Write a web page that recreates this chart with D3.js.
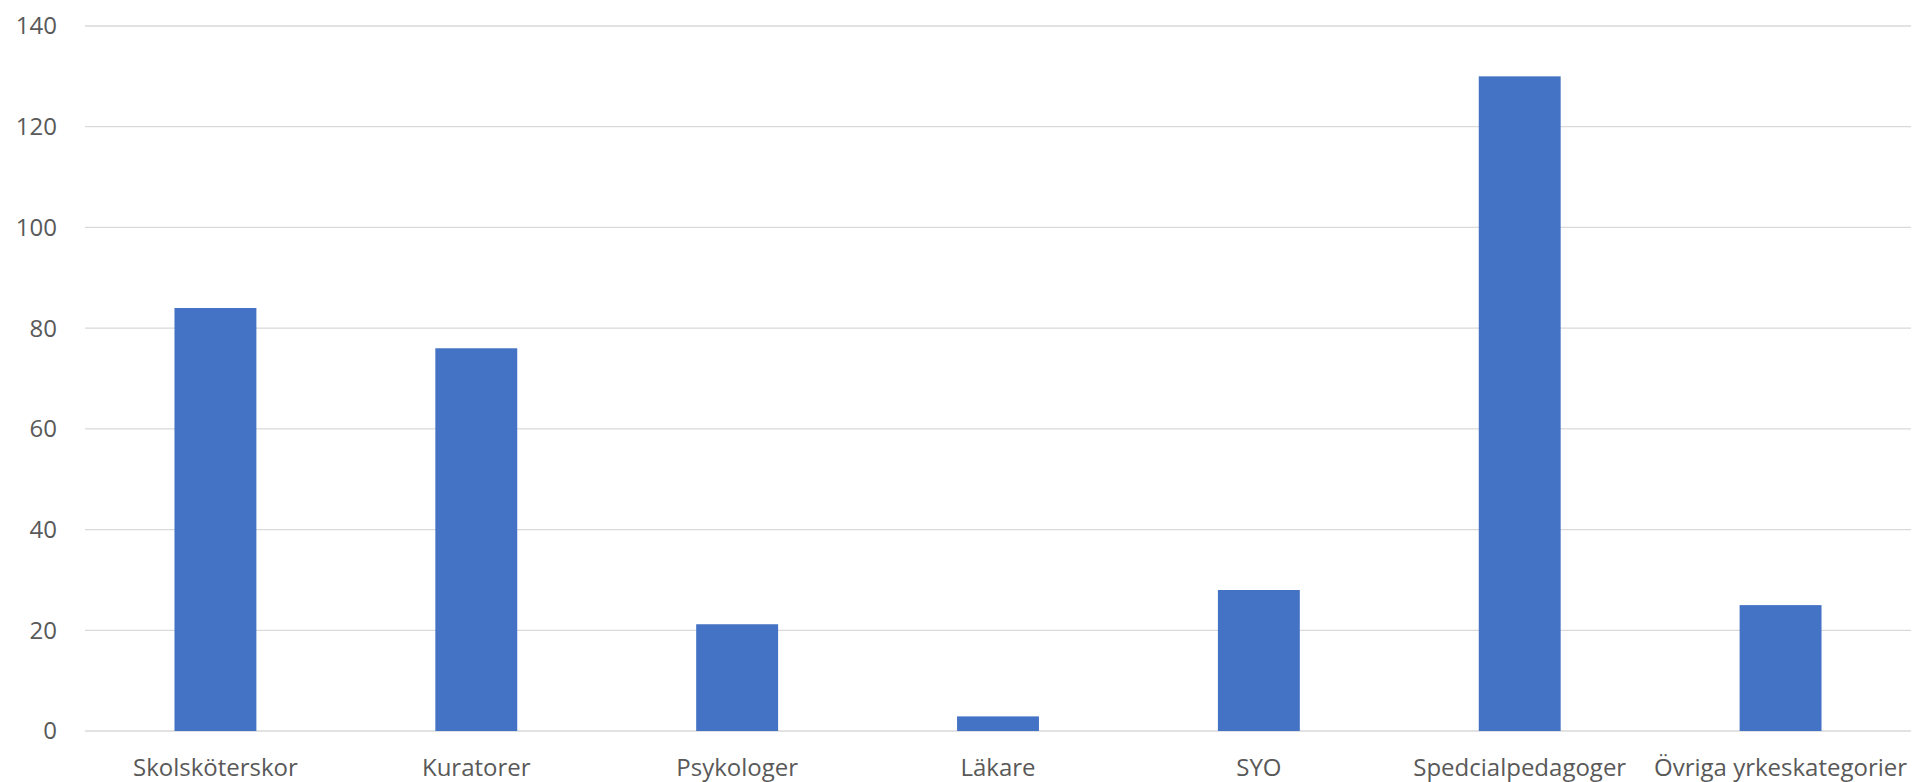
<!DOCTYPE html>
<html>
<head>
<meta charset="utf-8">
<script src="https://cdn.jsdelivr.net/npm/d3@7"></script>
<style>
  body { margin: 0; background: #fff; }
  text { font-family: "Open Sans", sans-serif; fill: #595959; }
</style>
</head>
<body>
<div id="chart"></div>
<script>
const categories = ["Skolsköterskor", "Kuratorer", "Psykologer", "Läkare", "SYO", "Spedcialpedagoger", "Övriga yrkeskategorier"];
const values = [84, 76, 21.2, 2.9, 28, 130, 25];
const yTicks = [0, 20, 40, 60, 80, 100, 120, 140];

const margin = {top: 26, right: 4, bottom: 51, left: 85},
  width = 1915 - margin.left - margin.right,
  height = 782 - margin.top - margin.bottom;

const svg = d3.select("#chart")
  .append("svg")
  .attr("width", width + margin.left + margin.right)
  .attr("height", height + margin.top + margin.bottom)
  .append("g")
  .attr("transform", `translate(${margin.left},${margin.top})`);

const x = d3.scaleBand()
  .domain(categories)
  .range([0, width])
  .paddingInner(0.686)
  .paddingOuter(0.343);

const y = d3.scaleLinear()
  .domain([0, 140])
  .range([height, 0]);

// gridlines
svg.append("g")
  .selectAll("line")
  .data(yTicks)
  .enter()
  .append("line")
  .attr("x1", 0)
  .attr("x2", width)
  .attr("y1", d => y(d))
  .attr("y2", d => y(d))
  .attr("stroke", "#d9d9d9")
  .attr("stroke-width", 1.3);

// y labels
svg.append("g")
  .selectAll("text")
  .data(yTicks)
  .enter()
  .append("text")
  .attr("x", -28)
  .attr("y", d => y(d))
  .attr("dy", "0.35em")
  .style("text-anchor", "end")
  .style("font-size", "24px")
  .text(d => d);

svg.selectAll(".bar")
  .data(values)
  .enter()
  .append("rect")
  .attr("class", "bar")
  .attr("x", (d, i) => x(categories[i]))
  .attr("y", d => y(d))
  .attr("width", x.bandwidth())
  .attr("height", d => height - y(d))
  .attr("fill", "#4472c4");

// x labels
svg.append("g")
  .selectAll("text")
  .data(categories)
  .enter()
  .append("text")
  .attr("x", d => x(d) + x.bandwidth() / 2)
  .attr("y", height + 45)
  .style("text-anchor", "middle")
  .style("font-size", "24px")
  .text(d => d);
</script>
</body>
</html>
